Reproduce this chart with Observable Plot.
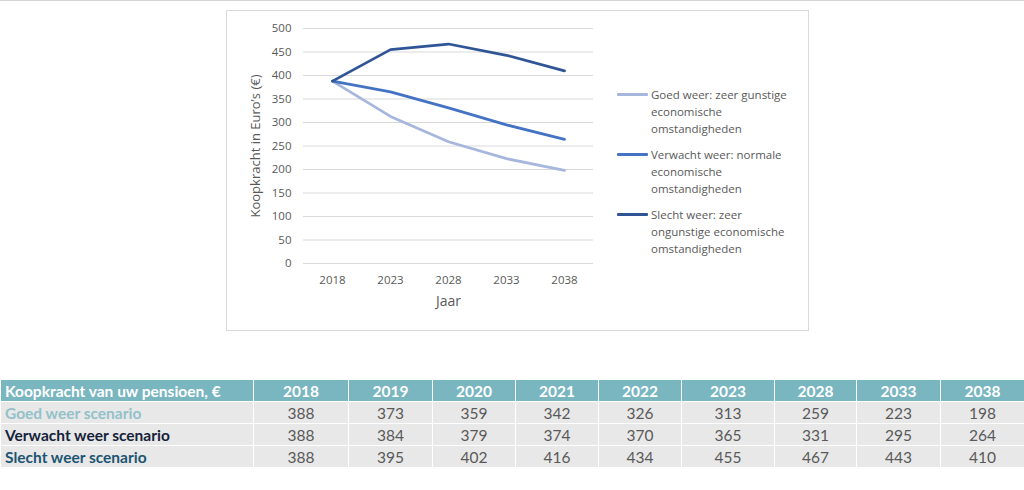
<!DOCTYPE html>
<html>
<head>
<meta charset="utf-8">
<script src="https://cdn.jsdelivr.net/npm/d3@7"></script>
<script src="https://cdn.jsdelivr.net/npm/@observablehq/plot@0.6"></script>
<style>
  html, body { margin: 0; padding: 0; background: #fff; }
  body { width: 1024px; height: 490px; position: relative; overflow: hidden; border-top: 1px solid #d4d4d4; box-sizing: border-box; }
  #chartbox { position: absolute; left: 226px; top: 9px; width: 581px; height: 319px; border: 1px solid #d9d9d9; background: #fff; }
  #plot { position: absolute; left: 0; top: 0; }
  #legend { position: absolute; left: 390px; top: 75px; font-family: "Open Sans", sans-serif; font-size: 11.5px; color: #595959; line-height: 17px; }
  .entry { display: flex; align-items: flex-start; margin-bottom: 9px; }
  .sw { width: 31px; height: 3px; margin-top: 7px; margin-right: 3px; border-radius: 1px; }
  .lbl { white-space: pre-line; }
  table { position: absolute; left: 0; top: 378px; border-collapse: collapse; table-layout: fixed; width: 1024px; font-family: Lato, sans-serif; font-size: 15.5px; }
  th, td { height: 21px; padding: 0; border: 1px solid #fff; line-height: 20px; }
  th { background: #79b6c0; color: #fff; font-weight: bold; text-align: center; }
  th.first, td.first { text-align: left; padding-left: 4px; font-weight: bold; }
  td { background: #e8e8e8; color: #595959; text-align: center; }
</style>
</head>
<body>
<div id="chartbox">
  <div id="plot"></div>
  <div id="legend"></div>
</div>
<table id="tbl"></table>
<script>
// ---- data ----
const years = ["2018", "2019", "2020", "2021", "2022", "2023", "2028", "2033", "2038"];
const goed = [388, 373, 359, 342, 326, 313, 259, 223, 198];
const verwacht = [388, 384, 379, 374, 370, 365, 331, 295, 264];
const slecht = [388, 395, 402, 416, 434, 455, 467, 443, 410];
const chartYears = ["2018", "2023", "2028", "2033", "2038"];
const yTicks = [0, 50, 100, 150, 200, 250, 300, 350, 400, 450, 500];
const seriesNames = [
  "Goed weer: zeer gunstige\neconomische\nomstandigheden",
  "Verwacht weer: normale\neconomische\nomstandigheden",
  "Slecht weer: zeer\nongunstige economische\nomstandigheden"
];
const seriesColors = ["#a7b6dd", "#4472c4", "#2f5597"];
const rowLabels = ["Goed weer scenario", "Verwacht weer scenario", "Slecht weer scenario"];
const rowLabelColors = ["#93c1c9", "#15233a", "#1c5572"];
const tableTitle = "Koopkracht van uw pensioen, €";
const yLabel = "Koopkracht in Euro’s (€)";
const xLabel = "Jaar";

const allSeries = [goed, verwacht, slecht];
const data = [];
allSeries.forEach((vals, si) => {
  chartYears.forEach(y => {
    data.push({series: seriesNames[si], year: y, value: vals[years.indexOf(y)]});
  });
});

const chart = Plot.plot({
  width: 581,
  height: 319,
  marginLeft: 76,
  marginRight: 215,
  marginTop: 17,
  marginBottom: 67,
  style: {fontFamily: "'Open Sans', sans-serif", fontSize: "11.5px", color: "#595959", background: "transparent"},
  x: {type: "point", domain: chartYears, padding: 0.5, label: null},
  y: {domain: [0, 500], label: null},
  color: {domain: seriesNames, range: seriesColors},
  marks: [
    Plot.ruleY(yTicks, {stroke: "#d9d9d9", strokeWidth: 1}),
    Plot.axisY({ticks: yTicks, tickSize: 0, tickPadding: 12, label: null}),
    Plot.axisX({tickSize: 0, tickPadding: 12, label: null}),
    Plot.lineY(data, {x: "year", y: "value", z: "series", stroke: "series", strokeWidth: 2.75, strokeLinejoin: "round", strokeLinecap: "round"}),
    Plot.text([yLabel], {frameAnchor: "left", textAnchor: "middle", lineAnchor: "middle", rotate: -90, dx: -48, fontSize: 13, fill: "#595959"}),
    Plot.text([xLabel], {frameAnchor: "bottom", textAnchor: "middle", dy: 42, fontSize: 14, fill: "#595959"})
  ]
});
document.getElementById("plot").appendChild(chart);

// legend
const legend = document.getElementById("legend");
seriesNames.forEach((n, i) => {
  const e = document.createElement("div");
  e.className = "entry";
  const sw = document.createElement("div");
  sw.className = "sw";
  sw.style.background = seriesColors[i];
  const l = document.createElement("div");
  l.className = "lbl";
  l.textContent = n;
  e.appendChild(sw); e.appendChild(l);
  legend.appendChild(e);
});

// table
const colWidths = [253, 95, 84, 83, 83, 83, 93, 82, 84, 84];
const tbl = document.getElementById("tbl");
const cg = document.createElement("colgroup");
colWidths.forEach(w => { const c = document.createElement("col"); c.style.width = w + "px"; cg.appendChild(c); });
tbl.appendChild(cg);
const hr = document.createElement("tr");
const h0 = document.createElement("th"); h0.className = "first"; h0.textContent = tableTitle; hr.appendChild(h0);
years.forEach(y => { const th = document.createElement("th"); th.textContent = y; hr.appendChild(th); });
tbl.appendChild(hr);
allSeries.forEach((vals, si) => {
  const tr = document.createElement("tr");
  const td0 = document.createElement("td"); td0.className = "first"; td0.textContent = rowLabels[si]; td0.style.color = rowLabelColors[si]; tr.appendChild(td0);
  vals.forEach(v => { const td = document.createElement("td"); td.textContent = v; tr.appendChild(td); });
  tbl.appendChild(tr);
});
</script>
</body>
</html>
